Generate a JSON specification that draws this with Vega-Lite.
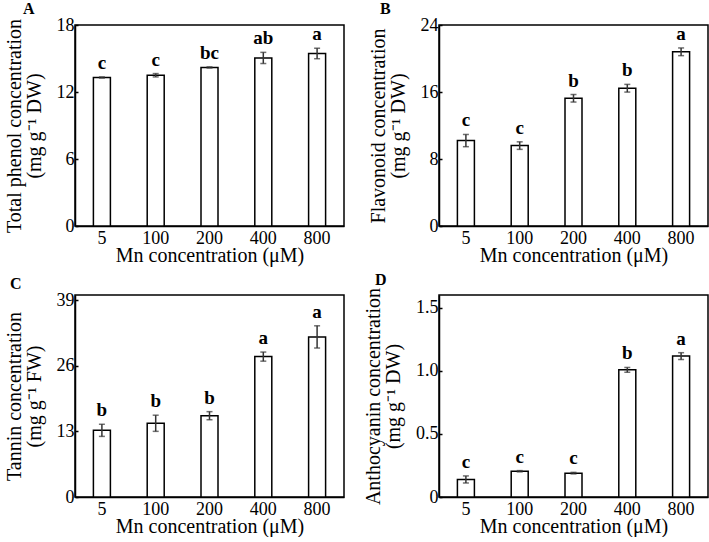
{
  "$schema": "https://vega.github.io/schema/vega-lite/v6.json",
  "background": "white",
  "padding": {"left": 3, "top": 0, "right": 0, "bottom": 0},
  "data": {"values": [
    {"panel": "A", "dose": "5", "mean": 13.3, "lo": 13.25, "hi": 13.35, "letter": "c"},
    {"panel": "A", "dose": "100", "mean": 13.5, "lo": 13.35, "hi": 13.65, "letter": "c"},
    {"panel": "A", "dose": "200", "mean": 14.2, "lo": 14.15, "hi": 14.25, "letter": "bc"},
    {"panel": "A", "dose": "400", "mean": 15.05, "lo": 14.55, "hi": 15.55, "letter": "ab"},
    {"panel": "A", "dose": "800", "mean": 15.45, "lo": 14.98, "hi": 15.92, "letter": "a"},
    {"panel": "B", "dose": "5", "mean": 10.2, "lo": 9.47, "hi": 10.93, "letter": "c"},
    {"panel": "B", "dose": "100", "mean": 9.6, "lo": 9.15, "hi": 10.05, "letter": "c"},
    {"panel": "B", "dose": "200", "mean": 15.25, "lo": 14.8, "hi": 15.7, "letter": "b"},
    {"panel": "B", "dose": "400", "mean": 16.45, "lo": 15.99, "hi": 16.91, "letter": "b"},
    {"panel": "B", "dose": "800", "mean": 20.8, "lo": 20.34, "hi": 21.26, "letter": "a"},
    {"panel": "C", "dose": "5", "mean": 13.2, "lo": 12.0, "hi": 14.4, "letter": "b"},
    {"panel": "C", "dose": "100", "mean": 14.6, "lo": 13.0, "hi": 16.2, "letter": "b"},
    {"panel": "C", "dose": "200", "mean": 16.1, "lo": 15.3, "hi": 16.9, "letter": "b"},
    {"panel": "C", "dose": "400", "mean": 27.8, "lo": 26.9, "hi": 28.7, "letter": "a"},
    {"panel": "C", "dose": "800", "mean": 31.7, "lo": 29.5, "hi": 33.9, "letter": "a"},
    {"panel": "D", "dose": "5", "mean": 0.139, "lo": 0.111, "hi": 0.167, "letter": "c"},
    {"panel": "D", "dose": "100", "mean": 0.204, "lo": 0.199, "hi": 0.209, "letter": "c"},
    {"panel": "D", "dose": "200", "mean": 0.189, "lo": 0.183, "hi": 0.195, "letter": "c"},
    {"panel": "D", "dose": "400", "mean": 1.007, "lo": 0.988, "hi": 1.026, "letter": "b"},
    {"panel": "D", "dose": "800", "mean": 1.116, "lo": 1.089, "hi": 1.143, "letter": "a"}
  ]},
  "columns": 2,
  "spacing": {"row": 69, "column": 95},
  "bounds": "flush",
  "concat": [
    {
      "title": {"text": "A", "dx": -52},
      "width": 269, "height": 201,
      "transform": [{"filter": "datum.panel == 'A'"}],
      "encoding": {"x": {"field": "dose", "type": "ordinal", "sort": ["5", "100", "200", "400", "800"], "scale": {"paddingInner": 0, "paddingOuter": 0}, "axis": {"title": "Mn concentration (μM)"}}},
      "layer": [
        {"mark": {"type": "bar", "size": 17, "fill": "white", "stroke": "black", "strokeWidth": 1.5},
         "encoding": {"y": {"field": "mean", "type": "quantitative", "scale": {"domain": [0, 18]}, "axis": {"values": [0, 6, 12, 18], "title": ["Total phenol concentration", "(mg g⁻¹ DW)"]}}}},
        {"mark": {"type": "errorbar", "ticks": {"size": 6, "thickness": 1.5, "color": "#333"}, "rule": {"strokeWidth": 1.5, "color": "#333"}},
         "encoding": {"y": {"field": "lo", "type": "quantitative", "axis": {"values": [0, 6, 12, 18], "title": ["Total phenol concentration", "(mg g⁻¹ DW)"]}}, "y2": {"field": "hi"}}},
        {"mark": {"type": "text", "dy": -4, "baseline": "bottom", "fontSize": 19, "fontWeight": "bold"},
         "encoding": {"y": {"field": "hi", "type": "quantitative", "axis": {"values": [0, 6, 12, 18], "title": ["Total phenol concentration", "(mg g⁻¹ DW)"]}}, "text": {"field": "letter"}}}
      ]
    },
    {
      "title": {"text": "B", "dx": -59},
      "width": 269, "height": 201,
      "transform": [{"filter": "datum.panel == 'B'"}],
      "encoding": {"x": {"field": "dose", "type": "ordinal", "sort": ["5", "100", "200", "400", "800"], "scale": {"paddingInner": 0, "paddingOuter": 0}, "axis": {"title": "Mn concentration (μM)"}}},
      "layer": [
        {"mark": {"type": "bar", "size": 17, "fill": "white", "stroke": "black", "strokeWidth": 1.5},
         "encoding": {"y": {"field": "mean", "type": "quantitative", "scale": {"domain": [0, 24]}, "axis": {"values": [0, 8, 16, 24], "title": ["Flavonoid concentration", "(mg g⁻¹ DW)"]}}}},
        {"mark": {"type": "errorbar", "ticks": {"size": 6, "thickness": 1.5, "color": "#333"}, "rule": {"strokeWidth": 1.5, "color": "#333"}},
         "encoding": {"y": {"field": "lo", "type": "quantitative", "axis": {"values": [0, 8, 16, 24], "title": ["Flavonoid concentration", "(mg g⁻¹ DW)"]}}, "y2": {"field": "hi"}}},
        {"mark": {"type": "text", "dy": -4, "baseline": "bottom", "fontSize": 19, "fontWeight": "bold"},
         "encoding": {"y": {"field": "hi", "type": "quantitative", "axis": {"values": [0, 8, 16, 24], "title": ["Flavonoid concentration", "(mg g⁻¹ DW)"]}}, "text": {"field": "letter"}}}
      ]
    },
    {
      "title": {"text": "C", "dx": -65},
      "width": 269, "height": 202,
      "transform": [{"filter": "datum.panel == 'C'"}],
      "encoding": {"x": {"field": "dose", "type": "ordinal", "sort": ["5", "100", "200", "400", "800"], "scale": {"paddingInner": 0, "paddingOuter": 0}, "axis": {"title": "Mn concentration (μM)"}}},
      "layer": [
        {"mark": {"type": "bar", "size": 17, "fill": "white", "stroke": "black", "strokeWidth": 1.5},
         "encoding": {"y": {"field": "mean", "type": "quantitative", "scale": {"domain": [0, 39]}, "axis": {"values": [0, 13, 26, 39], "title": ["Tannin concentration", "(mg g⁻¹ FW)"]}}}},
        {"mark": {"type": "errorbar", "ticks": {"size": 6, "thickness": 1.5, "color": "#333"}, "rule": {"strokeWidth": 1.5, "color": "#333"}},
         "encoding": {"y": {"field": "lo", "type": "quantitative", "axis": {"values": [0, 13, 26, 39], "title": ["Tannin concentration", "(mg g⁻¹ FW)"]}}, "y2": {"field": "hi"}}},
        {"mark": {"type": "text", "dy": -4, "baseline": "bottom", "fontSize": 19, "fontWeight": "bold"},
         "encoding": {"y": {"field": "hi", "type": "quantitative", "axis": {"values": [0, 13, 26, 39], "title": ["Tannin concentration", "(mg g⁻¹ FW)"]}}, "text": {"field": "letter"}}}
      ]
    },
    {
      "title": {"text": "D", "dx": -64},
      "width": 269, "height": 202,
      "transform": [{"filter": "datum.panel == 'D'"}],
      "encoding": {"x": {"field": "dose", "type": "ordinal", "sort": ["5", "100", "200", "400", "800"], "scale": {"paddingInner": 0, "paddingOuter": 0}, "axis": {"title": "Mn concentration (μM)"}}},
      "layer": [
        {"mark": {"type": "bar", "size": 17, "fill": "white", "stroke": "black", "strokeWidth": 1.5},
         "encoding": {"y": {"field": "mean", "type": "quantitative", "scale": {"domain": [0, 1.5]}, "axis": {"values": [0, 0.5, 1, 1.5], "labelExpr": "datum.value == 0 ? '0' : format(datum.value, '.1f')", "title": ["Anthocyanin concentration", "(mg g⁻¹ DW)"]}}}},
        {"mark": {"type": "errorbar", "ticks": {"size": 6, "thickness": 1.5, "color": "#333"}, "rule": {"strokeWidth": 1.5, "color": "#333"}},
         "encoding": {"y": {"field": "lo", "type": "quantitative", "axis": {"values": [0, 0.5, 1, 1.5], "labelExpr": "datum.value == 0 ? '0' : format(datum.value, '.1f')", "title": ["Anthocyanin concentration", "(mg g⁻¹ DW)"]}}, "y2": {"field": "hi"}}},
        {"mark": {"type": "text", "dy": -4, "baseline": "bottom", "fontSize": 19, "fontWeight": "bold"},
         "encoding": {"y": {"field": "hi", "type": "quantitative", "axis": {"values": [0, 0.5, 1, 1.5], "labelExpr": "datum.value == 0 ? '0' : format(datum.value, '.1f')", "title": ["Anthocyanin concentration", "(mg g⁻¹ DW)"]}}, "text": {"field": "letter"}}}
      ]
    }
  ],
  "config": {
    "font": "Liberation Serif",
    "view": {"stroke": "black", "strokeWidth": 1.5},
    "axis": {"grid": false, "domainColor": "black", "domainWidth": 1.5, "labelColor": "black", "titleColor": "black", "labelFont": "Liberation Serif", "titleFont": "Liberation Serif", "labelFontSize": 18, "titleFontSize": 20, "titleFontWeight": "normal", "titleLineHeight": 20},
    "axisX": {"ticks": false, "labelAngle": 0, "labelPadding": 3, "titlePadding": -2, "titleFontSize": 20},
    "axisY": {"tickSize": -3, "tickColor": "black", "tickWidth": 1.5, "labelPadding": 4, "titlePadding": 12},
    "title": {"anchor": "start", "frame": "group", "fontSize": 16, "fontWeight": "bold", "font": "Liberation Serif", "color": "black", "offset": -1}
  }
}
